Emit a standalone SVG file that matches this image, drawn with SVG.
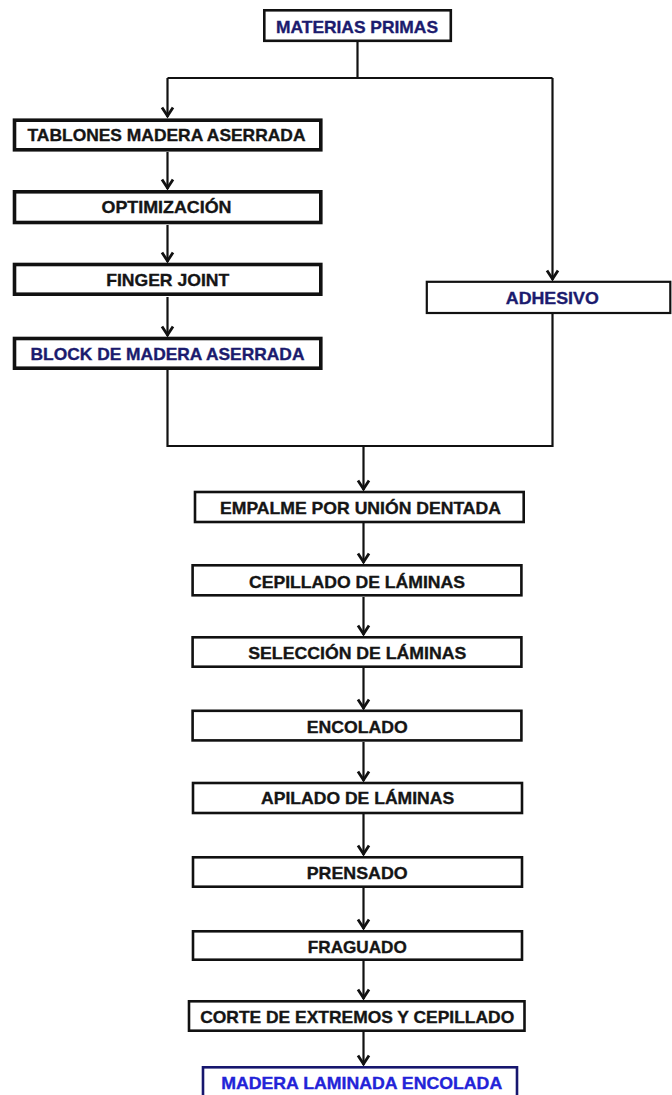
<svg xmlns="http://www.w3.org/2000/svg" width="672" height="1095" viewBox="0 0 672 1095">
  <style>
    .box { fill: #ffffff; stroke: #111111; }
    .thick { stroke-width: 3.6; }
    .mid { stroke-width: 2.6; }
    .thin { stroke-width: 2.2; }
    .lbl { font-family: "Liberation Sans", Arial, sans-serif; font-weight: bold; font-size: 17px; fill: #151515; stroke: #151515; stroke-width: 0.35; text-anchor: middle; }
    .navy { fill: #1b1b6e; stroke: #1b1b6e; }
    .blue { fill: #2323d8; stroke: #2323d8; }
    .wire { fill: none; stroke: #111111; stroke-width: 2.2; }
  </style>
  <defs>
    <marker id="arrow" markerUnits="userSpaceOnUse" markerWidth="14" markerHeight="16" refX="1" refY="0" viewBox="-12 -8 14 16" orient="auto" overflow="visible">
      <path d="M-8.5,-5.5 L0,0 L-8.5,5.5" fill="none" stroke="#111111" stroke-width="2.8"/>
    </marker>
  </defs>

  <rect width="672" height="1095" fill="#ffffff"/>

  <!-- connectors -->
  <g id="connectors">
    <path class="wire" d="M357.5,42 V78"/>
    <path class="wire" d="M167.5,78 H552.5"/>
    <path class="wire" d="M167.5,78 V117" marker-end="url(#arrow)"/>
    <path class="wire" d="M552.5,78 V280" marker-end="url(#arrow)"/>
    <path class="wire" d="M167.5,152 V189" marker-end="url(#arrow)"/>
    <path class="wire" d="M167.5,225 V262" marker-end="url(#arrow)"/>
    <path class="wire" d="M167.5,297 V336" marker-end="url(#arrow)"/>
    <path class="wire" d="M167.5,370 V446 H552.5 V314"/>
    <path class="wire" d="M363.5,446 V490" marker-end="url(#arrow)"/>
    <path class="wire" d="M363.5,523 V563" marker-end="url(#arrow)"/>
    <path class="wire" d="M363.5,597 V635" marker-end="url(#arrow)"/>
    <path class="wire" d="M363.5,668 V709" marker-end="url(#arrow)"/>
    <path class="wire" d="M363.5,742 V781" marker-end="url(#arrow)"/>
    <path class="wire" d="M363.5,814 V855" marker-end="url(#arrow)"/>
    <path class="wire" d="M363.5,888 V929" marker-end="url(#arrow)"/>
    <path class="wire" d="M363.5,961 V999" marker-end="url(#arrow)"/>
    <path class="wire" d="M363.5,1032 V1065" marker-end="url(#arrow)"/>
  </g>

  <g id="materias-primas">
    <rect class="box mid" x="264.3" y="10.3" width="186.5" height="30.5"/>
    <text class="lbl navy" x="357" y="32.5" textLength="162" lengthAdjust="spacingAndGlyphs">MATERIAS PRIMAS</text>
  </g>

  <g id="tablones">
    <rect class="box thick" x="14.5" y="120.2" width="306.3" height="29.6"/>
    <text class="lbl" x="166.5" y="141" textLength="278" lengthAdjust="spacingAndGlyphs">TABLONES MADERA ASERRADA</text>
  </g>

  <g id="optimizacion">
    <rect class="box thick" x="14.5" y="191.8" width="306.3" height="30.7"/>
    <text class="lbl" x="166.5" y="213.3" textLength="130" lengthAdjust="spacingAndGlyphs">OPTIMIZACIÓN</text>
  </g>

  <g id="finger-joint">
    <rect class="box thick" x="14.5" y="264.5" width="306.3" height="29.7"/>
    <text class="lbl" x="167.7" y="285.7" textLength="123" lengthAdjust="spacingAndGlyphs">FINGER JOINT</text>
  </g>

  <g id="block">
    <rect class="box thick" x="14.5" y="338.5" width="306.3" height="29.7"/>
    <text class="lbl navy" x="167.5" y="360" textLength="274" lengthAdjust="spacingAndGlyphs">BLOCK DE MADERA ASERRADA</text>
  </g>

  <g id="adhesivo">
    <rect class="box thin" x="426.8" y="281.8" width="243.5" height="31.2"/>
    <text class="lbl navy" x="552.3" y="304.3" textLength="93" lengthAdjust="spacingAndGlyphs">ADHESIVO</text>
  </g>

  <g id="empalme">
    <rect class="box mid" x="195" y="492" width="328.7" height="30"/>
    <text class="lbl" x="360.5" y="514.3" textLength="281" lengthAdjust="spacingAndGlyphs">EMPALME POR UNIÓN DENTADA</text>
  </g>

  <g id="cepillado">
    <rect class="box mid" x="192.6" y="565.3" width="328.8" height="30"/>
    <text class="lbl" x="357" y="587.7" textLength="216" lengthAdjust="spacingAndGlyphs">CEPILLADO DE LÁMINAS</text>
  </g>

  <g id="seleccion">
    <rect class="box mid" x="192.6" y="637.3" width="328.8" height="29.4"/>
    <text class="lbl" x="357.3" y="659" textLength="218" lengthAdjust="spacingAndGlyphs">SELECCIÓN DE LÁMINAS</text>
  </g>

  <g id="encolado">
    <rect class="box mid" x="192.6" y="710.8" width="328.8" height="29.6"/>
    <text class="lbl" x="357.2" y="732.7" textLength="101" lengthAdjust="spacingAndGlyphs">ENCOLADO</text>
  </g>

  <g id="apilado">
    <rect class="box mid" x="193" y="783" width="329" height="30"/>
    <text class="lbl" x="357.6" y="804.3" textLength="193" lengthAdjust="spacingAndGlyphs">APILADO DE LÁMINAS</text>
  </g>

  <g id="prensado">
    <rect class="box mid" x="193" y="857.3" width="329" height="29.4"/>
    <text class="lbl" x="357.2" y="878.5" textLength="101" lengthAdjust="spacingAndGlyphs">PRENSADO</text>
  </g>

  <g id="fraguado">
    <rect class="box mid" x="193" y="931.3" width="329" height="28.4"/>
    <text class="lbl" x="357.3" y="952.7" textLength="99" lengthAdjust="spacingAndGlyphs">FRAGUADO</text>
  </g>

  <g id="corte">
    <rect class="box mid" x="189" y="1001.3" width="335.5" height="29.4"/>
    <text class="lbl" x="357.2" y="1022.7" textLength="314" lengthAdjust="spacingAndGlyphs">CORTE DE EXTREMOS Y CEPILLADO</text>
  </g>

  <g id="madera-laminada">
    <rect x="203" y="1067.3" width="314" height="40" fill="#ffffff" stroke="#16166e" stroke-width="2.6"/>
    <text class="lbl blue" x="361.7" y="1088.5" textLength="281" lengthAdjust="spacingAndGlyphs">MADERA LAMINADA ENCOLADA</text>
  </g>
</svg>
